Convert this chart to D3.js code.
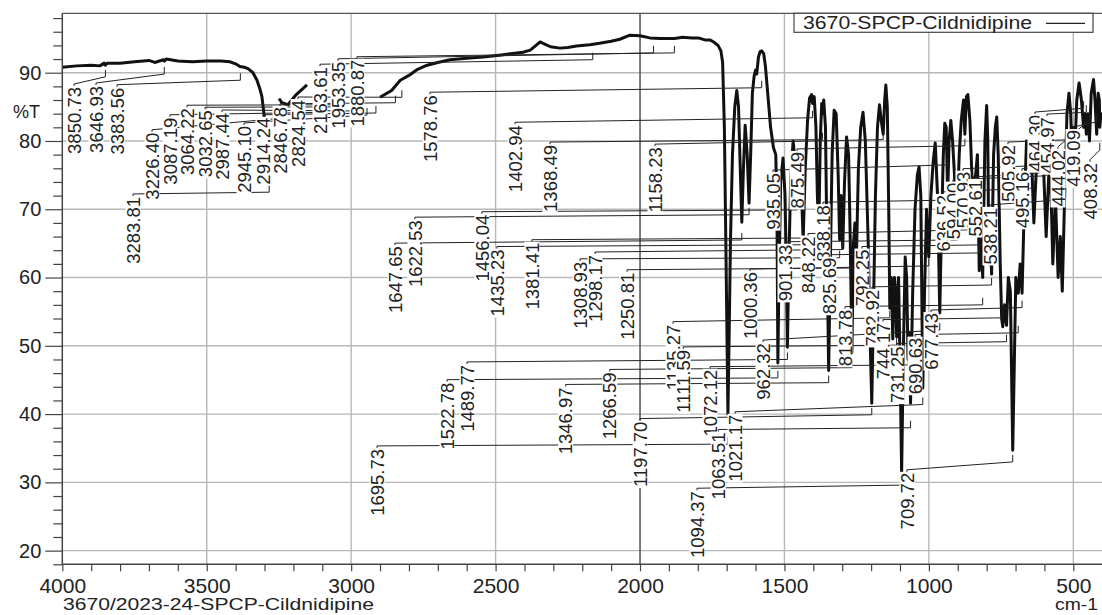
<!DOCTYPE html>
<html><head><meta charset="utf-8">
<script src="https://cdn.jsdelivr.net/npm/d3@7"></script>
<style>
body{margin:0;background:#fff;}
svg text{font-family:"Liberation Sans",Arial,sans-serif;fill:#222;}
</style></head>
<body><svg id="c" width="1102" height="615"></svg>
<script>
// ---- DATA (wavenumber cm-1, %T) ----
const spectrumWn = [4000,3950,3900,3870,3855,3850.73,3845,3800,3750,3700,3680,3650,3646.93,3640,3600,3550,3500,3450,3420,3400,3385,3370,3357,3340,3326,3315,3309,3298,3292,
 3256,3250,3246,3240,3219,3190,3153,
 2927,2900,2860,2830,2800,2770,2737,2700,2658,2600,2543,2480,2405,2380,2360,2346,2330,2310,2277,2250,2220,2174,2140,2100,2070,2035,2000,1966,1930,1900,1880.87,1852,1820,1800,1790,1775,1758,1745,1730,1720,1714,1708,1702,1698,1695.73,1692,1687,1680,1672,1665,1659,1653,1647.65,1642,1636,1629,1622.53,1617,1611,1605,1600,1596,1590,1584,1578.76,1572,1566,1558,1548,1538,1530,1526,1522.78,1519,1513,1505,1498,1493,1489.77,1485,1478,1470,1463,1456.04,1450,1444,1435.23,1428,1420,1413,1406,1402.94,1397,1391,1386,1381.41,1376,1371,1368.49,1364,1358,1352,1346.97,1342,1335,1328,1321,1314,1308.93,1304,1298.17,1292,1285,1278,1272,1266.59,1261,1256,1250.81,1244,1236,1228,1220,1210,1204,1197.70,1192,1185,1178,1171,1165,1158.23,1153,1149,1144,1139,1135.27,1130,1125,1119,1115,1111.59,1105,1100,1094.37,1088,1082,1077,1072.12,1068,1063.51,1056,1048,1040,1034,1028,1021.17,1015,1008,1000.36,993,985,978,970,962.32,956,950,945,940,935.05,930,924,918,910,901.33,895,888,880,875.49,870,865,858,852,848,844,838.18,832,825.69,819,813.7,806,800,796,792.25,787,782.92,776,770,765,760,753,748,744.17,738,731.25,725,718,709.72,704,699,694,690.63,684,677.43,670,662,655,645,636.52,628,615,603,594,585,578,570.93,562,552.61,545,538.21,530,522,515,509,505.92,500,495.16,488,480,472,464.3,459,454.97,449,444.02,438,430,425,419.09,414,410,408.32,404,400];
const spectrumT = [90.8,91.0,91.1,91.0,91.4,91.1,91.4,91.4,91.6,91.8,91.5,91.9,91.7,92.0,91.7,91.6,91.7,91.7,91.6,91.3,90.9,90.8,90.6,90.0,88.9,87.5,86.5,82.6,null,
 null,86.2,86.0,85.6,85.3,86.8,88.2,
 null,86.4,87.4,88.9,89.6,90.5,91.1,91.5,91.9,92.1,92.3,92.6,93.0,93.3,94.0,94.5,94.2,93.8,93.6,93.7,93.9,94.1,94.3,94.6,94.9,95.5,95.4,95.1,95.0,95.0,95.0,95.2,95.1,95.1,95.0,94.8,94.8,94.5,94.0,93.2,91.5,82,62,48,40,50,65,78,85,87.4,85,76,68.1,76,82.3,78,70.9,78,87,89.5,90.4,89.8,92.3,93.1,93.2,92.8,91,87,82,79,78,70,47.5,60,74,77.5,72,60,49.8,62,75,80,77,71,77,76,65.5,76,83,86.3,86.8,85.5,86.5,82,72,66.5,80,85.5,84,86,82,62,46.4,60,78,84.5,84,75,65.5,72,64.3,74,80.6,78,65,49,65,68,63,76,82,84.2,80,65,52,41.6,55,72,82,85.3,83,81,86,88.2,85,70,55.5,60,51,60,58,51.3,60,48,31.4,50,63,60,48,52,41.6,58,70,75,76.2,72,43.8,58,70,63,72,77,79.7,72,54.8,68,78,82.6,82,72,80,83,80,74,70,78,83,86,81,86.5,86.8,83,76,72,74,75,78,61,66,60,80,85.2,80,62,68,60.5,78,82,83.5,78,62,54,52.8,56,53,60,58,34.7,48,60,58,57.7,62,57.7,70,80,80,78,68,76,80,76,66,75,74,62,72,60,66,58,72,84,87,84,80,82,78,86,88.5,86,82,84,81,84,80,87,89,86,81,87,86,82,84,83];

// peak annotations: peak wavenumber, label position (cm-1, %T at label top), leader end (%T)
const peakWn   = [3850.73,3646.93,3383.56,3283.81,3226.40,3087.19,3064.22,3032.65,2987.44,2945.10,2914.24,2846.78,2824.54,2163.61,1953.35,1880.87,1578.76,1402.94,1368.49,1158.23,1647.65,1622.53,1456.04,1435.23,1381.41,1308.93,1298.17,1250.81,1135.27,1111.59,1072.12,1063.51,1021.17,1197.70,1094.37,1695.73,1522.78,1489.77,1346.97,1266.59,1000.36,962.32,935.05,901.33,875.49,848.22,838.18,825.69,813.78,792.25,782.92,744.17,731.25,690.63,677.43,709.72,636.52,594.00,570.93,552.61,538.21,505.92,495.16,464.30,454.97,444.02,419.09,408.32];
const peakText = peakWn.map(v => v.toFixed(2));
const labelWn  = [3959.5,3883.3,3810.6,3755.2,3689.5,3627.2,3568.3,3506,3447.1,3371,3305.2,3246.4,3184.1,3107.9,3045.6,2979.8,2727.1,2432.8,2311.6,1948.1,2848.6,2779.4,2547.4,2495.5,2374.3,2207.7,2155.8,2045.1,1885.8,1850.5,1757.8,1729.3,1671.1,2000,1802.8,2910.5,2668.2,2599,2257.5,2104.8,1619.3,1574.3,1539.6,1498.1,1456.6,1418.5,1366.6,1345.8,1290.4,1231.6,1197,1158.9,1110.4,1048.1,992.7,1076.1,951.2,916.6,882,840.4,788.5,726.2,677.7,632.7,591.1,553.1,501.1,442.3];
const labelTopT= [87.9,88.05,87.8,71.8,81.2,83.4,84.8,84.5,84.1,82.2,83.4,85.0,86.0,90.8,91.6,91.9,86.7,82.3,79.4,79.1,64.6,68.4,69.2,64.1,65.1,62.3,63.3,60.7,53.1,49.4,46.5,37.3,39.9,38.9,28.7,34.9,44.6,47.2,43.9,46.1,60.8,50.4,75.3,64.8,78.4,66.0,70.6,62.9,55.3,64.1,58.2,53.4,49.9,51.2,54.8,31.4,72.1,73.9,75.5,74.3,70.2,79.4,75.5,83.8,83.5,78.7,81.6,76.8];
const leaderT  = [89.4,89.8,88.9,72.5,83.4,84.2,85.3,85.0,84.4,83.8,84.1,85.6,86.4,91.9,92.9,92.9,87.8,83.4,80.2,80.2,65.5,69.2,69.9,64.8,65.8,62.9,64.1,61.4,54.1,50.1,47.2,38.0,41.4,39.9,29.6,35.6,45.3,48.0,44.6,46.8,61.7,52.3,76.5,65.5,79.3,67.0,71.4,63.6,56.0,64.8,58.9,54.1,50.6,51.9,55.6,33.0,73.1,74.9,76.5,75.5,71.4,80.2,76.5,84.8,84.2,83.1,82.8,78.7];

const xTicksMajor = [4000,3500,3000,2500,2000,1500,1000,500];
const yTicksMajor = [20,30,40,50,60,70,80,90];
const seriesName = "3670-SPCP-Cildnidipine";
const sampleName = "3670/2023-24-SPCP-Cildnidipine";

// ---- DRAW ----
const svg = d3.select("#c");
const x = d3.scaleLinear().domain([4000,400]).range([62.3,1102.2]);
const y = d3.scaleLinear().domain([18,98.7]).range([564.3,13.3]);
const [x0,x1] = x.range(), [yb,yt] = y.range();

// grid
const g = svg.append("g");
g.selectAll("line.h").data(yTicksMajor).join("line")
  .attr("x1",x0).attr("x2",x1).attr("y1",d=>y(d)).attr("y2",d=>y(d))
  .attr("stroke","#b8b8b8").attr("stroke-width",1.4);
g.selectAll("line.v").data(xTicksMajor.filter(d=>d!==4000)).join("line")
  .attr("x1",d=>x(d)).attr("x2",d=>x(d)).attr("y1",yt).attr("y2",yb)
  .attr("stroke",d=>d===2000?"#444":"#b8b8b8").attr("stroke-width",1.4);
svg.append("line").attr("x1",x0).attr("x2",x1).attr("y1",yt).attr("y2",yt).attr("stroke","#555").attr("stroke-width",1.3);

// spectrum
const pts = spectrumWn.map((w,i)=>[w,spectrumT[i]]);
const line = d3.line().defined(d=>d[1]!==null).x(d=>x(d[0])).y(d=>y(d[1]));
svg.append("path").datum(pts).attr("d",line).attr("fill","none")
  .attr("stroke","#111").attr("stroke-width",3).attr("stroke-linejoin","round");

// peak leaders
const peaks = peakWn.map((w,i)=>({w,t:peakText[i],lx:labelWn[i],ly:labelTopT[i],le:leaderT[i]}));
svg.append("g").selectAll("path").data(peaks).join("path")
  .attr("d",d=>{const lx=x(d.lx), ly=y(d.ly), px=x(d.w), ey=y(d.le);
     return `M${lx},${ly}L${lx},${ly-3}L${px},${ey}L${px},${ey-7}`;})
  .attr("fill","none").attr("stroke","#222").attr("stroke-width",1);

// peak labels
const lg = svg.append("g").selectAll("g").data(peaks).join("g")
  .attr("transform",d=>`translate(${x(d.lx)},${y(d.ly)}) rotate(-90)`);
lg.append("text").attr("text-anchor","end").attr("dy","0.36em")
  .attr("font-size",18.5).text(d=>d.t);
lg.each(function(){
  const t=d3.select(this).select("text"); const len=t.node().getComputedTextLength();
  d3.select(this).insert("rect","text").attr("x",-len-1).attr("y",-7.5).attr("width",len+2).attr("height",15).attr("fill","#fff");
});

// axes
const xAxis = d3.axisBottom(x).tickValues(d3.range(4000,399,-100)).tickSize(7).tickPadding(7)
  .tickFormat(d=>xTicksMajor.includes(d)?d:"");
const ax = svg.append("g").attr("transform",`translate(0,${yb})`).call(xAxis);
ax.select(".domain").attr("d",`M${x0},0H${x1}`).attr("stroke","#444").attr("stroke-width",1.5);
ax.selectAll(".tick line").attr("stroke","#444").attr("stroke-width",1.2);
ax.selectAll("text").attr("font-size",21).attr("fill","#222");

const yAxis = d3.axisLeft(y).tickValues(d3.range(18,99,2)).tickSize(9).tickPadding(13)
  .tickFormat(d=>yTicksMajor.includes(d)?d:"");
const ay = svg.append("g").attr("transform",`translate(${x0},0)`).call(yAxis);
ay.select(".domain").attr("d",`M0,${yb}V${yt}`).attr("stroke","#444").attr("stroke-width",1.5);
ay.selectAll(".tick line").attr("stroke","#444").attr("stroke-width",1.2)
  .attr("x2",d=>yTicksMajor.includes(d)?-17:-9);
ay.selectAll("text").attr("font-size",20).attr("fill","#222").attr("x",-21);

svg.append("text").attr("x",13).attr("y",y(83.3)).attr("font-size",18)
  .attr("textLength",27).attr("lengthAdjust","spacingAndGlyphs").text("%T");
svg.append("text").attr("x",63).attr("y",610).attr("font-size",17)
  .attr("textLength",311).attr("lengthAdjust","spacingAndGlyphs").text(sampleName);
svg.append("text").attr("x",1055).attr("y",610).attr("font-size",17)
  .attr("textLength",43).attr("lengthAdjust","spacingAndGlyphs").text("cm-1");

// legend
const leg = svg.append("g");
leg.append("rect").attr("x",794).attr("y",yt).attr("width",299).attr("height",19)
  .attr("fill","#fff").attr("stroke","#444").attr("stroke-width",1.2);
leg.append("text").attr("x",803).attr("y",yt+16).attr("font-size",18.5)
  .attr("textLength",229).attr("lengthAdjust","spacingAndGlyphs").text(seriesName);
leg.append("line").attr("x1",1046).attr("x2",1085).attr("y1",yt+10).attr("y2",yt+10).attr("stroke","#222").attr("stroke-width",1.2);
</script></body></html>
